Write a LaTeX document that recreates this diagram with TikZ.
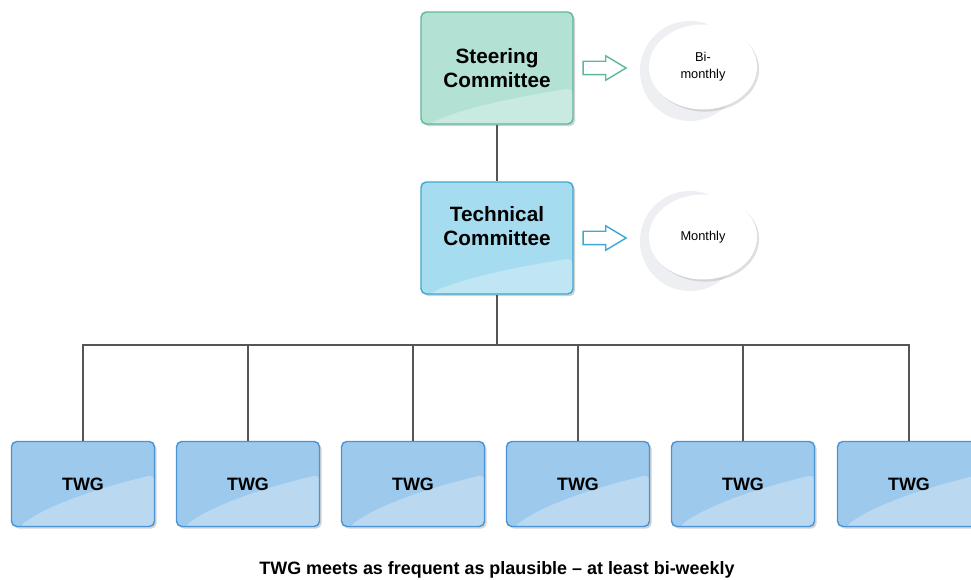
\documentclass[tikz,border=0pt]{standalone}
\usepackage{fontspec}
\setmainfont{Liberation Sans}
\usetikzlibrary{shapes.geometric}
\usetikzlibrary{shapes.arrows}
\usetikzlibrary{shadows}
\usetikzlibrary{calc}
\definecolor{scfill}{HTML}{B3E1D3}
\definecolor{scline}{HTML}{5DB99B}
\definecolor{tcfill}{HTML}{A5DCF0}
\definecolor{tcline}{HTML}{3EA8D2}
\definecolor{twfill}{HTML}{9DC9EC}
\definecolor{twline}{HTML}{4A93D4}
\definecolor{wirecol}{HTML}{555555}
\definecolor{ringbg}{HTML}{EDEFF3}

\tikzset{
  gloss/.style={path picture={
    \fill[white,opacity=.3]
      let \p1=(path picture bounding box.south west),
          \p2=(path picture bounding box.north east) in
      ({\x1+0.055*(\x2-\x1)},\y1)
      .. controls ({\x1+0.25*(\x2-\x1)},{\y1+0.41*#1*(\y2-\y1)})
             and ({\x1+0.6*(\x2-\x1)},{\y1+0.74*#1*(\y2-\y1)})
      .. (\x2,{\y1+#1*(\y2-\y1)}) -- (\x2,\y1) -- cycle;}},
  box/.style={draw, rounded corners=3pt, line width=.8pt, align=center,
    drop shadow={shadow xshift=1.2pt, shadow yshift=-1.2pt, opacity=.35}},
  bigbox/.style={box, gloss=0.32, minimum width=3.04cm, minimum height=2.24cm,
    font=\fontsize{11.8}{13.6}\selectfont\bfseries},
  twg/.style={box, gloss=0.61, fill=twfill, draw=twline,
    minimum width=2.86cm, minimum height=1.7cm,
    font=\fontsize{10.2}{12}\selectfont\bfseries},
  ring/.style={circle, fill=ringbg, minimum size=2cm, inner sep=0pt},
  bubble/.style={ellipse, fill=white, minimum width=2.16cm, minimum height=1.7cm,
    inner sep=0pt, align=center, font=\fontsize{7.3}{9.6}\selectfont,
    drop shadow={shadow xshift=1.2pt, shadow yshift=-1.2pt, opacity=.25}},
  hollow/.style={single arrow, draw, fill=white, line width=.8pt,
    inner xsep=0pt, inner ysep=.12cm, text height=0pt, text depth=0pt,
    minimum height=.86cm, minimum width=.46cm, single arrow head extend=.11cm,
    single arrow tip angle=62},
  wire/.style={draw=wirecol, line width=.8pt}
}

\begin{document}
\begin{tikzpicture}[x=0.02cm,y=-0.02cm]
    % Background
    \useasboundingbox (0,0) rectangle (971,580);
    \fill[white] (0,0) rectangle (971,580);
    \begin{scope}
    \clip (0,0) rectangle (971,580);
    % Committees
    \node[bigbox, fill=scfill, draw=scline] (sc) at (497,68) {Steering\\Committee};
    \node[bigbox, fill=tcfill, draw=tcline] (tc) at (497,238) {};
    \node[font=\fontsize{11.8}{13.6}\selectfont\bfseries, align=center]
      (tctext) at (497,226) {Technical\\Committee};
    % Meeting rhythm
    \node[hollow, draw=scline] (a1) at (599,68) {};
    \node[ring] (r1) at (690,71) {};
    \node[bubble] (b1) at (703,67) {Bi-\\monthly};
    \node[hollow, draw=tcline] (a2) at (599,238) {};
    \node[ring] (r2) at (690,241) {};
    \node[bubble] (b2) at (703,237) {Monthly};
    % Working groups
    \node[twg] (w1) at (83,484) {TWG};
    \node[twg] (w2) at (248,484) {TWG};
    \node[twg] (w3) at (413,484) {TWG};
    \node[twg] (w4) at (578,484) {TWG};
    \node[twg] (w5) at (743,484) {TWG};
    \node[twg] (w6) at (909,484) {TWG};
    % Wires
    \coordinate (bus) at (497,345);
    \draw[wire] (sc) -- (tc);
    \draw[wire] (tc) -- (bus);
    \draw[wire] (w1.north) |- (bus) -| (w6.north);
    \draw[wire] (w2.north) -- (w2.north |- bus);
    \draw[wire] (w3.north) -- (w3.north |- bus);
    \draw[wire] (w4.north) -- (w4.north |- bus);
    \draw[wire] (w5.north) -- (w5.north |- bus);
    \end{scope}
    \node[font=\fontsize{10.2}{12}\selectfont\bfseries] (note) at (497,570)
      {TWG meets as frequent as plausible – at least bi-weekly};
\end{tikzpicture}
\end{document}
